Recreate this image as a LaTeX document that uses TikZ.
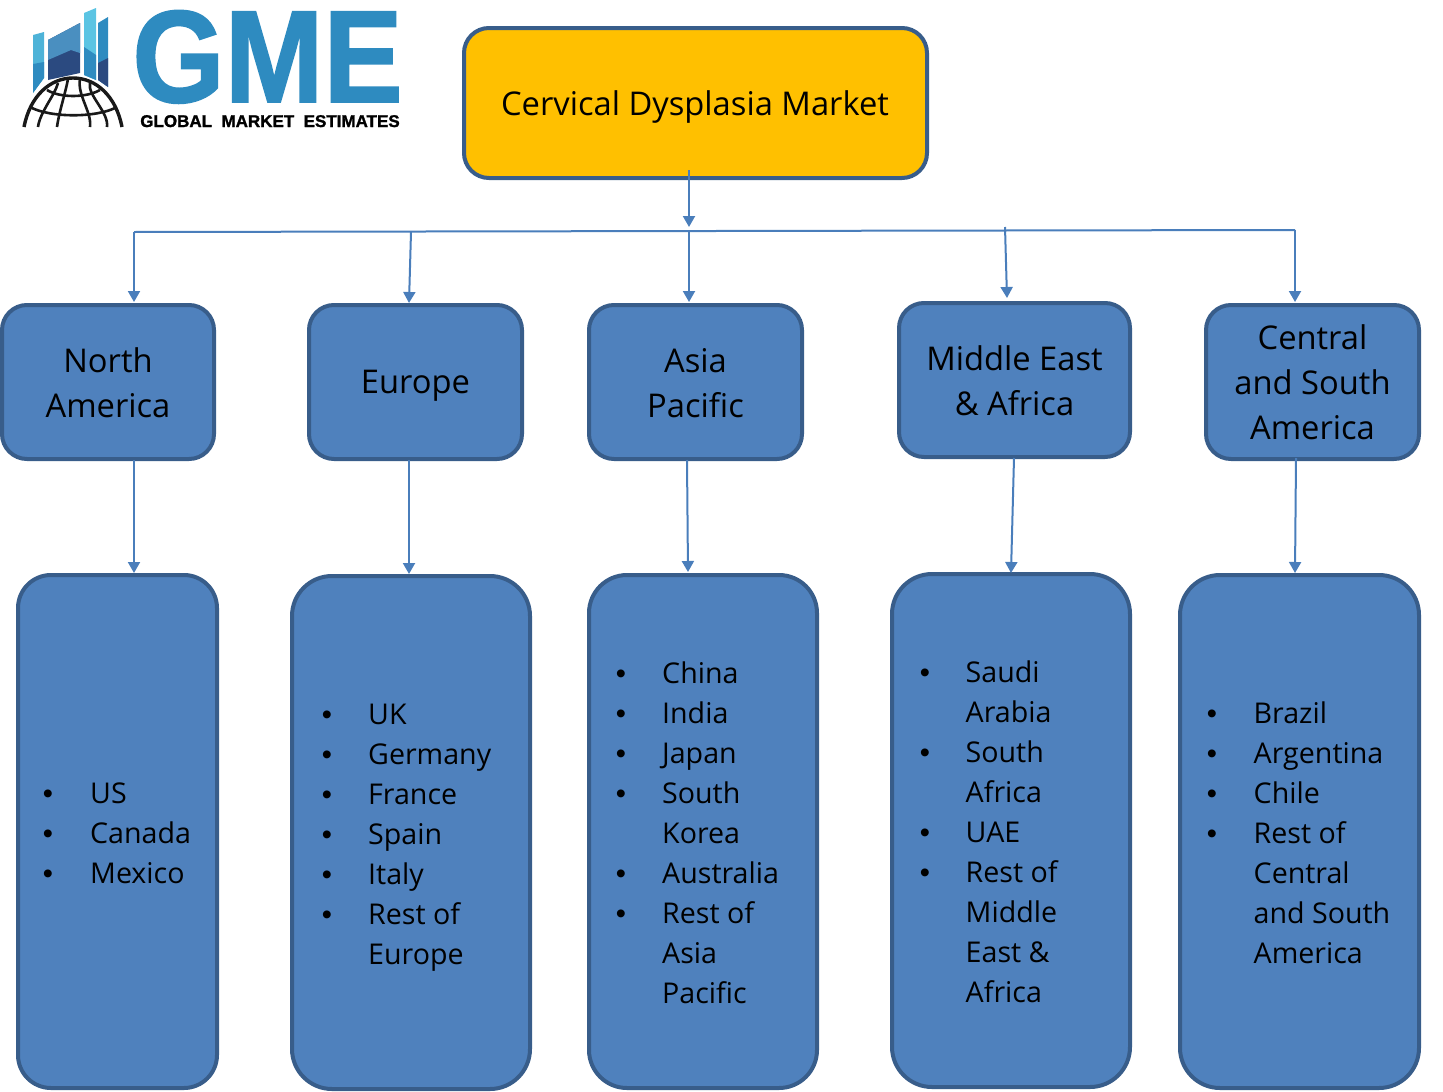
\documentclass[tikz,border=0pt]{standalone}
\usepackage{fontspec}
\setmainfont{Open Sans}
\setsansfont[BoldFeatures={FakeBold=1.5}]{Liberation Sans}
\definecolor{boxfill}{HTML}{4F81BD}
\definecolor{boxedge}{HTML}{385D8A}
\definecolor{linkblue}{HTML}{4A7EBB}
\definecolor{titlefill}{HTML}{FFC000}
\definecolor{logoblue}{HTML}{2E8BC0}
\definecolor{logosky}{HTML}{5BC4E3}
\definecolor{logomid}{HTML}{4A8FC0}
\definecolor{logonavy}{HTML}{2B4A80}
\usetikzlibrary{arrows.meta}
\begin{document}
\begin{tikzpicture}[
  x=1pt, y=-1pt,
  titlebox/.style={draw=boxedge, line width=4pt, fill=titlefill, rounded corners=25pt},
  regionbox/.style={draw=boxedge, line width=4pt, fill=boxfill, rounded corners=25pt},
  listbox/.style={draw=boxedge, line width=4pt, fill=boxfill, rounded corners=#1},
  boxtext/.style={font=\fontsize{32.7}{45}\selectfont, align=center, text=black, inner sep=0pt},
  listline/.style={font=\fontsize{28.6}{40}\selectfont, anchor=base west, text=black, inner sep=0pt},
  dotmark/.style={font=\sffamily\fontsize{29}{40}\selectfont, anchor=base, text=black, inner sep=0pt},
  link/.style={draw=linkblue, line width=2pt, -{Triangle[length=11pt,width=12pt]}},
  bar/.style={draw=linkblue, line width=2pt},
  globeline/.style={draw=black!90, line width=2.6pt},
]
\useasboundingbox (0,0) rectangle (1443,1092);

% logo: bars
\fill[logosky!70!logoblue] (33,35) -- (44,32) -- (44,78) -- (33,93) -- cycle;
\fill[logoblue] (33,64) -- (44,62) -- (44,78) -- (33,93) -- cycle;
\fill[logonavy] (48,40) -- (80,23) -- (80,73) -- (48,80) -- cycle;
\fill[logomid] (48,40) -- (80,23) -- (80,53) -- (71,50) -- (48,60) -- cycle;
\fill[logosky] (84,13) -- (96,8) -- (96,80) -- (84,75) -- cycle;
\fill[logoblue] (84,47) -- (96,55) -- (96,80) -- (84,75) -- cycle;
\fill[logoblue] (98,23) -- (108,17) -- (108,87) -- (98,80) -- cycle;
\fill[logonavy] (98,63) -- (108,58) -- (108,87) -- (98,80) -- cycle;
% logo: globe
\fill[white] (15,130) arc[start angle=180, end angle=0, x radius=58, y radius=58] -- cycle;
\draw[globeline, line width=3.4pt] (24,127) .. controls (30,96) and (50,78) .. (73,78) .. controls (96,78) and (116,96) .. (122,127);
\foreach \xa/\xb/\yb in {38/58/83, 57/68/79, 90/80/79, 107/90/83} {
  \draw[globeline] (\xa,127) .. controls (\xa+2,112) and (\xb-3,95) .. (\xb,\yb);
}
\draw[globeline] (47,90) .. controls (60,98) and (86,98) .. (100,90);
\draw[globeline] (30,107) .. controls (50,118) and (97,118) .. (117,107);

% logo: lettering
\node[font=\sffamily\bfseries\fontsize{131}{131}\selectfont, text=logoblue, anchor=base, inner sep=0pt] (gme) at (267.5,102) {\scalebox{.905}[1]{GME}};
\node[font=\sffamily\bfseries\fontsize{17}{17}\selectfont, text=black, anchor=base, inner sep=0pt] (gmename) at (270,127) {GLOBAL\ \ MARKET\ \ ESTIMATES};

% title
\node[titlebox, minimum width=463pt, minimum height=150pt] (market) at (695.5,103) {};
\node[boxtext] (markettext) at (695,107) {Cervical Dysplasia Market};

% regions
\node[regionbox, minimum width=212pt, minimum height=154pt] (na) at (108,382) {};
\node[regionbox, minimum width=213pt, minimum height=154pt] (eu) at (415.5,382) {};
\node[regionbox, minimum width=213pt, minimum height=154pt] (ap) at (695.5,382) {};
\node[regionbox, minimum width=231pt, minimum height=154pt] (mea) at (1014.5,380) {};
\node[regionbox, minimum width=213pt, minimum height=154pt] (csa) at (1312.5,382) {};
\node[boxtext] at (108,383) (natext) {North\\America};
\node[boxtext] at (415.5,386) (eutext) {Europe};
\node[boxtext] at (695.5,383) (aptext) {Asia\\Pacific};
\node[boxtext] at (1014.5,381) (meatext) {Middle East\\\& Africa};
\node[boxtext] at (1312.5,382) (csatext) {Central\\and South\\America};

% country boxes
\node[listbox=33pt, minimum width=199pt, minimum height=513pt] (nalist) at (117.5,831.5) {};
\node[listbox=40pt, minimum width=238pt, minimum height=513pt] (eulist) at (411,832.5) {};
\node[listbox=38pt, minimum width=228pt, minimum height=513pt] (aplist) at (703,831.5) {};
\node[listbox=40pt, minimum width=238pt, minimum height=513pt] (mealist) at (1011,830.5) {};
\node[listbox=40pt, minimum width=239pt, minimum height=513pt] (csalist) at (1299.5,831.5) {};

% country lines, then their bullets
\foreach \t [count=\i] in {US,Canada,Mexico}
  \node[listline] (nal\i) at (90,803+40*\i-40) {\t};
\foreach \i in {0,1,2}
  \node[dotmark] (nab\i) at (48,803+40*\i) {•};
\foreach \t [count=\i] in {UK,Germany,France,Spain,Italy,Rest of,Europe}
  \node[listline] (eul\i) at (368,724+40*\i-40) {\t};
\foreach \i in {0,1,...,5}
  \node[dotmark] (eub\i) at (327,724+40*\i) {•};
\foreach \t [count=\i] in {China,India,Japan,South,Korea,Australia,Rest of,Asia,Pacific}
  \node[listline] (apl\i) at (662,683+40*\i-40) {\t};
\foreach \i in {0,1,2,3,5,6}
  \node[dotmark] (apb\i) at (621,683+40*\i) {•};
\foreach \t [count=\i] in {Saudi,Arabia,South,Africa,UAE,Rest of,Middle,East \&,Africa}
  \node[listline] (meal\i) at (965.5,682+40*\i-40) {\t};
\foreach \i in {0,2,4,5}
  \node[dotmark] (meab\i) at (925,682+40*\i) {•};
\foreach \t [count=\i] in {Brazil,Argentina,Chile,Rest of,Central,and South,America}
  \node[listline] (csal\i) at (1253.5,723+40*\i-40) {\t};
\foreach \i in {0,1,2,3}
  \node[dotmark] (csab\i) at (1212,723+40*\i) {•};

% connector ends on the long bar and on the box edges
\coordinate (titlefoot) at (689,170);
\coordinate (barmid) at (689,227);
\coordinate (barleft) at (134,232);
\coordinate (bareu) at (411,232);
\coordinate (barap) at (689,231);
\coordinate (barmea) at (1005,227);
\coordinate (barright) at (1295,230);
\coordinate (natop) at (134,302);
\coordinate (eutop) at (409,303);
\coordinate (aptop) at (689,302);
\coordinate (meatop) at (1007,298);
\coordinate (csatop) at (1295,302);
\coordinate (nafoot) at (134,460);
\coordinate (eufoot) at (409,460);
\coordinate (apfoot) at (687,460);
\coordinate (meafoot) at (1014,458);
\coordinate (csafoot) at (1296,458);
\coordinate (nalisttop) at (134,573);
\coordinate (eulisttop) at (409,574);
\coordinate (aplisttop) at (688,572);
\coordinate (mealisttop) at (1011,573);
\coordinate (csalisttop) at (1295,573);

\draw[link] (titlefoot) -- (barmid);
\draw[bar] (barleft) -- (barright);
\draw[link] (barleft) -- (natop);
\draw[link] (bareu) -- (eutop);
\draw[link] (barap) -- (aptop);
\draw[link] (barmea) -- (meatop);
\draw[link] (barright) -- (csatop);
\draw[link] (nafoot) -- (nalisttop);
\draw[link] (eufoot) -- (eulisttop);
\draw[link] (apfoot) -- (aplisttop);
\draw[link] (meafoot) -- (mealisttop);
\draw[link] (csafoot) -- (csalisttop);
\end{tikzpicture}
\end{document}
